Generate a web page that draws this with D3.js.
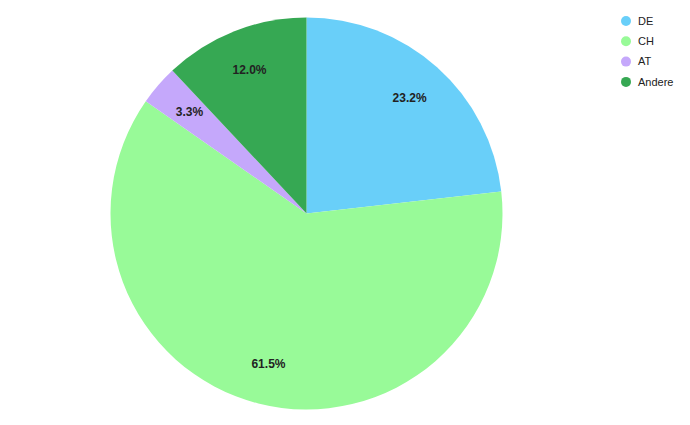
<!DOCTYPE html>
<html><head><meta charset="utf-8">
<script src="https://cdn.jsdelivr.net/npm/d3@7"></script>
<style>body{margin:0;background:#fff;}svg{display:block;font-family:"Liberation Sans",Arial,sans-serif;}</style>
</head><body>
<svg id="chart" width="690" height="425"></svg>
<script>
const categories = ["DE", "CH", "AT", "Andere"];
const values = [23.2, 61.5, 3.3, 12.0];
const colors = ["#69cff9", "#98fa98", "#c5a8fb", "#36a853"];

const svg = d3.select("#chart");
const cx = 306.5, cy = 213.5, r = 196;
const data = categories.map((c, i) => ({cat: c, value: values[i], color: colors[i]}));
const pie = d3.pie().value(d => d.value).sort(null);
const arcs = pie(data);
const arc = d3.arc().innerRadius(0).outerRadius(r);
const labelArc = d3.arc().innerRadius(r * 0.79).outerRadius(r * 0.79);

const g = svg.append("g").attr("transform", `translate(${cx},${cy})`);
g.selectAll("path").data(arcs).join("path")
  .attr("d", arc).attr("fill", d => d.data.color);
g.selectAll("text").data(arcs).join("text")
  .attr("transform", d => `translate(${labelArc.centroid(d)})`)
  .attr("text-anchor", "middle").attr("dy", "0.35em")
  .attr("font-size", 12).attr("font-weight", "bold").attr("fill", "#222")
  .text(d => d.data.value.toFixed(1) + "%");

const legend = svg.append("g").attr("transform", "translate(626,21)");
const items = legend.selectAll("g").data(data).join("g")
  .attr("transform", (d, i) => `translate(0,${i * 20.3})`);
items.append("circle").attr("r", 5).attr("fill", d => d.color);
items.append("text").attr("x", 12).attr("dy", "0.35em")
  .attr("font-size", 11).attr("fill", "#222").text(d => d.cat);
</script>
</body></html>
